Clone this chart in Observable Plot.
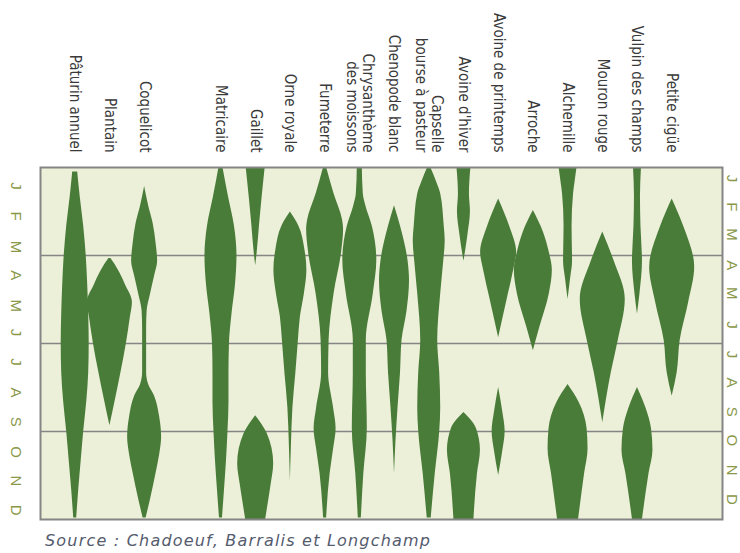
<!DOCTYPE html>
<html><head><meta charset="utf-8">
<script src="https://cdn.jsdelivr.net/npm/d3@7"></script>
<script src="https://cdn.jsdelivr.net/npm/@observablehq/plot@0.6"></script>
<style>
body{margin:0;background:#fff;}
#wrap{position:relative;width:740px;height:553px;overflow:hidden;}
#src{position:absolute;left:45px;top:531px;font:italic 16px "DejaVu Sans",sans-serif;letter-spacing:1.2px;color:#555b6e;white-space:nowrap;}
</style></head><body>
<div id="wrap"><div id="chart"></div><div id="src">Source : Chadoeuf, Barralis et Longchamp</div></div>
<script>
// Month tick labels (top to bottom)
const months = ["J","F","M","A","M","J","J","A","S","O","N","D"];
// Species (column headers, left to right)
const species = ["Pâturin annuel","Plantain","Coquelicot","Matricaire","Gaillet","Orne royale","Fumeterre",
  "Chrysanthème\ndes moissons","Chenopode blanc","Capselle\nbourse à pasteur","Avoine d'hiver",
  "Avoine de printemps","Arroche","Alchemille","Mouron rouge","Vulpin des champs","Petite cigüe"];
// Quarter separators (months elapsed)
const quarterLines = [3, 6, 9];

// Germination profiles: [month position (0 = 1 Jan, 12 = 31 Dec), relative width]
const paturin = [[0.15,5],[0.5,7],[1,10],[2,17],[3,22],[4,25],[5,27],[6,28],[7,27],[8,23],[9,17],[10,12],[11,7],[11.95,3]];
const plantain = [[3.1,2],[3.3,10],[3.6,20],[4,31],[4.6,45],[5.1,41],[6,33],[7,22],[8,10],[8.8,0]];
const coquelicot = [[0.65,0],[1.3,8],[1.9,17],[2.6,23],[3.2,26],[3.7,20],[4.3,12],[4.9,5],[5.5,4],[7,4],[7.4,8],[7.8,20],[8.5,30],[9.2,34],[9.8,30],[10.5,22],[11.3,12],[11.95,3]];
const matricaire = [[0,4],[1,15],[2,27],[3,32],[4,29],[5,22],[6,17],[7,16],[8,16],[9,14],[10,11],[11,7],[11.95,3]];
const gailletPrintemps = [[0,19],[1,13],[2,7.5],[2.9,3],[3.35,0]];
const gailletAutomne = [[8.46,0],[9.07,23],[10.1,36],[10.8,31],[11.35,26],[12,20]];
const orne = [[1.52,0],[2.0,17],[2.8,29],[3.5,33],[4.3,28],[5.1,20],[5.9,16],[7.0,11],[8.2,5],[9.5,2],[10.7,0]];
const fumeterre = [[0,3],[0.9,18],[1.8,35],[2.1,37],[2.9,33],[4.3,18],[5.9,8],[7.0,7],[8.2,17],[8.9,22],[9.6,17],[10.45,10],[11.95,3]];
const chrysantheme = [[0,5],[0.9,7],[1.3,12],[2.0,25],[3.17,34],[4.3,27],[5.9,13],[7,13],[8.9,15],[10.45,8],[11.95,3]];
const chenopode = [[1.3,0],[2.0,12],[3.17,27],[3.85,30],[4.9,25],[5.9,15],[7,12],[8.2,7],[9.3,3],[10.45,0]];
const capselle = [[0,3],[0.5,15],[0.9,23],[2.0,30],[2.5,32],[3.2,29],[4.3,23],[5.9,17],[7,21],[8.2,23],[9,21],[10.45,12],[11.95,4]];
const avoineHiverA = [[0,14],[0.9,11],[1.5,13],[2.3,8],[3.2,0]];
const avoineHiverB = [[8.35,0],[8.9,25],[9.65,33],[10.45,27],[12,20]];
const avoinePrintempsA = [[1.07,0],[2,22],[2.9,36],[3.5,30],[4.5,17],[5.8,0]];
const avoinePrintempsB = [[7.5,0],[8.3,8],[9.0,13],[9.7,8],[10.5,0]];
const arroche = [[1.47,0],[2.2,20],[2.9,32],[3.5,38],[4.3,32],[5.45,13],[6.25,0]];
const alchemilleA = [[0,18],[0.5,14],[0.9,11],[2,8],[3.2,9],[3.8,5],[4.5,0]];
const alchemilleB = [[7.4,0],[8.0,22],[8.9,38],[9.6,40],[10.45,33],[12,21]];
const mouron = [[2.2,0],[3.2,23],[4.5,45],[5.9,31],[7.0,17],[8.7,0]];
const vulpinA = [[0,8],[1,6],[2,7],[3.2,10],[4.3,5],[5,0]];
const vulpinB = [[7.5,0],[8.2,17],[8.9,28],[9.65,31],[10.45,23],[12,10]];
const petiteCigue = [[1.07,0],[2,23],[3.4,45],[4.6,33],[5.9,16],[7,10],[7.8,0]];

const parts = [
  [0, paturin],[1, plantain],[2, coquelicot],[3, matricaire],[4, gailletPrintemps],[4, gailletAutomne],
  [5, orne],[6, fumeterre],[7, chrysantheme],[8, chenopode],[9, capselle],[10, avoineHiverA],[10, avoineHiverB],
  [11, avoinePrintempsA],[11, avoinePrintempsB],[12, arroche],[13, alchemilleA],[13, alchemilleB],
  [14, mouron],[15, vulpinA],[15, vulpinB],[16, petiteCigue]
];

// layout
const W = 740, mL = 40, mR = 18, mT = 167, H = 525, mB = 6;
const pos = i => i + (i >= 3 ? 1.2 : 0);  // gap between the first three columns and the rest
const xDomain = [-1.0, 18.65];
const unit = (W - mL - mR) / (xDomain[1] - xDomain[0]);

const rows = parts.flatMap(([si, prof], k) => prof.map(([t, w]) => ({part: k, t, c: pos(si), w})));

const labelFont = '"Liberation Sans Narrow", "DejaVu Sans Condensed", "Liberation Sans", sans-serif';
const monthFont = '"Liberation Sans", sans-serif';

const chart = Plot.plot({
  width: W, height: H,
  marginLeft: mL, marginRight: mR, marginTop: mT, marginBottom: mB,
  x: {domain: xDomain, axis: null},
  y: {domain: [0, 12], reverse: true, axis: null},
  style: {background: "transparent", overflow: "visible"},
  marks: [
    Plot.frame({fill: "#ecf0d9", stroke: null}),
    Plot.ruleY(quarterLines, {stroke: "#858585", strokeWidth: 1.6}),
    Plot.areaX(rows, {
      y: "t",
      x1: d => d.c - d.w / 2 / unit,
      x2: d => d.c + d.w / 2 / unit,
      z: "part",
      fill: "#4a7c39",
      curve: "monotone-y"
    }),
    Plot.frame({stroke: "#858585", strokeWidth: 2}),
    Plot.text(species, {
      x: (d, i) => pos(i), text: d => d,
      frameAnchor: "top", dy: -15, rotate: 90,
      textAnchor: "end", lineAnchor: "middle", lineHeight: 1.05,
      fontSize: 15, fill: "#3a3a3a", fontFamily: labelFont
    }),
    Plot.text(months, {
      y: (d, i) => i + 0.5, text: d => d,
      frameAnchor: "left", dx: -25, rotate: 90,
      fontSize: 15, fill: "#8a9848", fontFamily: monthFont
    }),
    Plot.text(months, {
      y: (d, i) => i + 0.5, text: d => d,
      frameAnchor: "right", dx: 9, rotate: 90,
      fontSize: 15, fill: "#8a9848", fontFamily: monthFont
    })
  ]
});
document.getElementById("chart").appendChild(chart);
</script>
</body></html>
